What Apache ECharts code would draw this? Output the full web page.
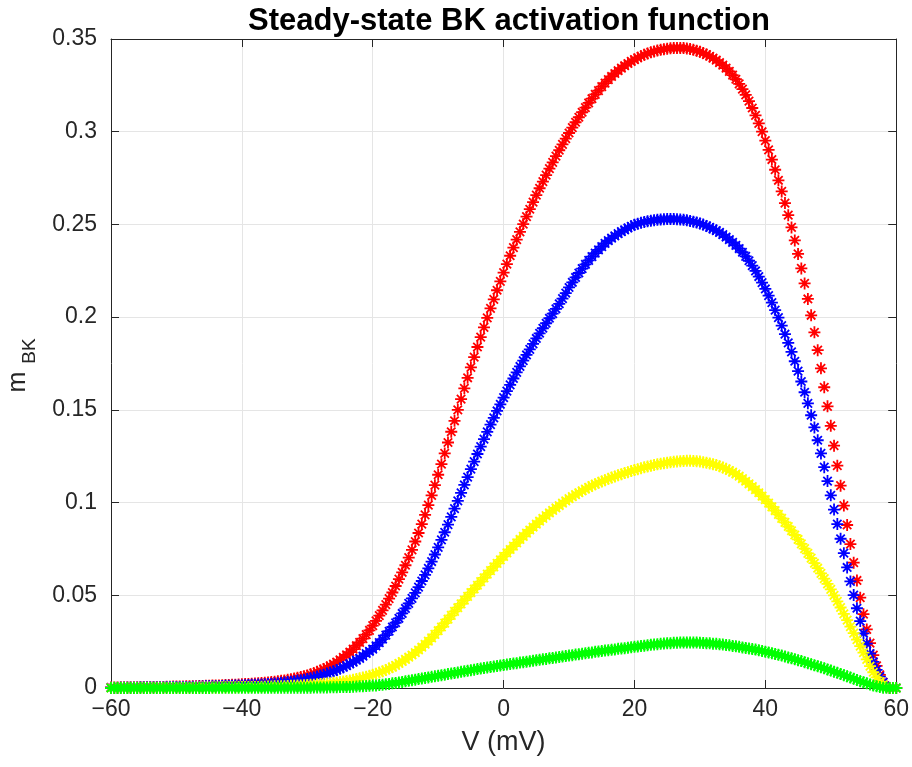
<!DOCTYPE html>
<html>
<head>
<meta charset="utf-8">
<script src="https://cdn.jsdelivr.net/npm/echarts@6/dist/echarts.min.js"></script>
<style>
html,body{margin:0;padding:0;background:#fff;}
#chart{width:912px;height:767px;}
</style>
</head>
<body>
<div id="chart"></div>
<script>
// Membrane potential samples (mV)
const V = [
-60,-59.5,-59,-58.5,-58,-57.5,-57,-56.5,-56,-55.5,
-55,-54.5,-54,-53.5,-53,-52.5,-52,-51.5,-51,-50.5,
-50,-49.5,-49,-48.5,-48,-47.5,-47,-46.5,-46,-45.5,
-45,-44.5,-44,-43.5,-43,-42.5,-42,-41.5,-41,-40.5,
-40,-39.5,-39,-38.5,-38,-37.5,-37,-36.5,-36,-35.5,
-35,-34.5,-34,-33.5,-33,-32.5,-32,-31.5,-31,-30.5,
-30,-29.5,-29,-28.5,-28,-27.5,-27,-26.5,-26,-25.5,
-25,-24.5,-24,-23.5,-23,-22.5,-22,-21.5,-21,-20.5,
-20,-19.5,-19,-18.5,-18,-17.5,-17,-16.5,-16,-15.5,
-15,-14.5,-14,-13.5,-13,-12.5,-12,-11.5,-11,-10.5,
-10,-9.5,-9,-8.5,-8,-7.5,-7,-6.5,-6,-5.5,
-5,-4.5,-4,-3.5,-3,-2.5,-2,-1.5,-1,-0.5,
0,0.5,1,1.5,2,2.5,3,3.5,4,4.5,
5,5.5,6,6.5,7,7.5,8,8.5,9,9.5,
10,10.5,11,11.5,12,12.5,13,13.5,14,14.5,
15,15.5,16,16.5,17,17.5,18,18.5,19,19.5,
20,20.5,21,21.5,22,22.5,23,23.5,24,24.5,
25,25.5,26,26.5,27,27.5,28,28.5,29,29.5,
30,30.5,31,31.5,32,32.5,33,33.5,34,34.5,
35,35.5,36,36.5,37,37.5,38,38.5,39,39.5,
40,40.5,41,41.5,42,42.5,43,43.5,44,44.5,
45,45.5,46,46.5,47,47.5,48,48.5,49,49.5,
50,50.5,51,51.5,52,52.5,53,53.5,54,54.5,
55,55.5,56,56.5,57,57.5,58,58.5,59,59.5,
60];

const mRed = [
0.0003,0.0003,0.0003,0.0004,0.0004,0.0004,0.0004,0.0004,0.0004,0.0005,
0.0005,0.0005,0.0005,0.0006,0.0006,0.0006,0.0006,0.0007,0.0007,0.0008,
0.0008,0.0008,0.0008,0.0009,0.0009,0.0010,0.0010,0.0011,0.0011,0.0012,
0.0012,0.0013,0.0013,0.0014,0.0015,0.0016,0.0016,0.0017,0.0018,0.0019,
0.0020,0.0021,0.0022,0.0023,0.0024,0.0026,0.0027,0.0028,0.0030,0.0032,
0.0034,0.0036,0.0039,0.0041,0.0044,0.0047,0.0051,0.0055,0.0059,0.0063,
0.0068,0.0074,0.0080,0.0087,0.0094,0.0102,0.0110,0.0119,0.0129,0.0140,
0.0152,0.0165,0.0179,0.0194,0.0210,0.0228,0.0246,0.0266,0.0288,0.0311,
0.0336,0.0362,0.0390,0.0419,0.0450,0.0482,0.0515,0.0550,0.0587,0.0624,
0.0662,0.0703,0.0745,0.0790,0.0836,0.0884,0.0934,0.0986,0.1039,0.1094,
0.1150,0.1207,0.1265,0.1324,0.1382,0.1441,0.1500,0.1558,0.1616,0.1673,
0.1729,0.1784,0.1839,0.1892,0.1945,0.1996,0.2047,0.2096,0.2145,0.2193,
0.2240,0.2286,0.2331,0.2375,0.2418,0.2460,0.2502,0.2542,0.2582,0.2620,
0.2658,0.2695,0.2731,0.2766,0.2801,0.2835,0.2868,0.2900,0.2932,0.2963,
0.2993,0.3022,0.3051,0.3078,0.3105,0.3130,0.3155,0.3178,0.3201,0.3222,
0.3243,0.3262,0.3281,0.3298,0.3314,0.3329,0.3343,0.3356,0.3368,0.3379,
0.3389,0.3399,0.3407,0.3415,0.3422,0.3428,0.3433,0.3438,0.3442,0.3445,
0.3448,0.3450,0.3451,0.3452,0.3452,0.3451,0.3449,0.3446,0.3442,0.3437,
0.3431,0.3424,0.3416,0.3407,0.3397,0.3386,0.3373,0.3359,0.3343,0.3325,
0.3305,0.3283,0.3258,0.3230,0.3199,0.3165,0.3128,0.3088,0.3045,0.3000,
0.2952,0.2902,0.2850,0.2795,0.2738,0.2678,0.2615,0.2550,0.2484,0.2414,
0.2341,0.2263,0.2182,0.2098,0.2010,0.1918,0.1822,0.1724,0.1622,0.1519,
0.1414,0.1307,0.1199,0.1091,0.0984,0.0879,0.0776,0.0676,0.0580,0.0487,
0.0398,0.0316,0.0242,0.0177,0.0119,0.0071,0.0032,0.0008,0,0,
0];

const mBlue = [
0.0002,0.0002,0.0002,0.0003,0.0003,0.0003,0.0003,0.0003,0.0003,0.0004,
0.0004,0.0004,0.0004,0.0004,0.0004,0.0004,0.0004,0.0005,0.0005,0.0006,
0.0006,0.0006,0.0006,0.0006,0.0006,0.0007,0.0007,0.0008,0.0008,0.0009,
0.0009,0.0009,0.0009,0.0010,0.0011,0.0012,0.0012,0.0012,0.0013,0.0014,
0.0014,0.0015,0.0016,0.0017,0.0017,0.0019,0.0019,0.0020,0.0022,0.0023,
0.0024,0.0026,0.0028,0.0030,0.0032,0.0034,0.0037,0.0040,0.0042,0.0045,
0.0049,0.0053,0.0057,0.0062,0.0067,0.0072,0.0078,0.0084,0.0090,0.0097,
0.0105,0.0112,0.0121,0.0130,0.0139,0.0150,0.0160,0.0172,0.0186,0.0198,
0.0210,0.0227,0.0245,0.0264,0.0285,0.0306,0.0329,0.0352,0.0376,0.0402,
0.0429,0.0456,0.0483,0.0513,0.0544,0.0577,0.0610,0.0645,0.0682,0.0720,
0.0758,0.0799,0.0840,0.0881,0.0923,0.0967,0.1009,0.1052,0.1095,0.1137,
0.1180,0.1221,0.1262,0.1302,0.1342,0.1381,0.1420,0.1457,0.1494,0.1530,
0.1566,0.1601,0.1635,0.1669,0.1702,0.1734,0.1765,0.1796,0.1826,0.1856,
0.1885,0.1913,0.1940,0.1967,0.1994,0.2019,0.2045,0.2072,0.2100,0.2130,
0.2160,0.2188,0.2214,0.2238,0.2262,0.2285,0.2306,0.2326,0.2345,0.2363,
0.2380,0.2398,0.2413,0.2426,0.2438,0.2450,0.2461,0.2471,0.2481,0.2490,
0.2498,0.2504,0.2509,0.2513,0.2517,0.2520,0.2523,0.2525,0.2527,0.2528,
0.2529,0.2529,0.2529,0.2528,0.2527,0.2525,0.2523,0.2519,0.2515,0.2511,
0.2505,0.2499,0.2492,0.2484,0.2476,0.2467,0.2457,0.2445,0.2432,0.2418,
0.2403,0.2387,0.2370,0.2350,0.2328,0.2304,0.2278,0.2249,0.2219,0.2186,
0.2152,0.2116,0.2078,0.2038,0.1997,0.1954,0.1908,0.1861,0.1813,0.1762,
0.1709,0.1653,0.1595,0.1535,0.1471,0.1405,0.1336,0.1265,0.1191,0.1116,
0.1039,0.0962,0.0884,0.0805,0.0727,0.0650,0.0575,0.0501,0.0430,0.0361,
0.0295,0.0239,0.0186,0.0141,0.0098,0.0061,0.0030,0.0008,0,0,
0];

const mYellow = [
0.0001,0.0001,0.0001,0.0001,0.0001,0.0001,0.0001,0.0001,0.0001,0.0001,
0.0001,0.0001,0.0001,0.0001,0.0002,0.0002,0.0002,0.0002,0.0002,0.0002,
0.0002,0.0002,0.0002,0.0002,0.0002,0.0002,0.0003,0.0003,0.0003,0.0003,
0.0003,0.0003,0.0003,0.0003,0.0004,0.0004,0.0004,0.0004,0.0004,0.0005,
0.0005,0.0005,0.0005,0.0006,0.0006,0.0006,0.0007,0.0007,0.0008,0.0008,
0.0009,0.0009,0.0010,0.0010,0.0011,0.0012,0.0012,0.0013,0.0014,0.0015,
0.0016,0.0017,0.0018,0.0020,0.0021,0.0023,0.0024,0.0026,0.0028,0.0030,
0.0033,0.0035,0.0038,0.0041,0.0044,0.0048,0.0052,0.0056,0.0061,0.0066,
0.0071,0.0077,0.0083,0.0090,0.0097,0.0105,0.0113,0.0122,0.0133,0.0143,
0.0154,0.0166,0.0178,0.0191,0.0205,0.0220,0.0236,0.0253,0.0270,0.0289,
0.0309,0.0329,0.0350,0.0371,0.0392,0.0413,0.0433,0.0454,0.0474,0.0494,
0.0514,0.0534,0.0554,0.0574,0.0594,0.0614,0.0633,0.0653,0.0672,0.0691,
0.0710,0.0729,0.0747,0.0765,0.0783,0.0801,0.0818,0.0835,0.0852,0.0868,
0.0884,0.0900,0.0915,0.0930,0.0944,0.0958,0.0971,0.0984,0.0997,0.1009,
0.1021,0.1032,0.1043,0.1053,0.1063,0.1073,0.1082,0.1091,0.1099,0.1107,
0.1114,0.1121,0.1128,0.1135,0.1141,0.1147,0.1153,0.1159,0.1164,0.1170,
0.1175,0.1180,0.1185,0.1190,0.1194,0.1198,0.1202,0.1206,0.1209,0.1212,
0.1215,0.1218,0.1220,0.1222,0.1223,0.1224,0.1225,0.1225,0.1224,0.1223,
0.1221,0.1218,0.1215,0.1211,0.1207,0.1202,0.1196,0.1189,0.1182,0.1173,
0.1164,0.1154,0.1143,0.1129,0.1115,0.1101,0.1086,0.1070,0.1053,0.1035,
0.1016,0.0997,0.0977,0.0957,0.0936,0.0915,0.0893,0.0871,0.0848,0.0825,
0.0801,0.0777,0.0752,0.0726,0.0700,0.0673,0.0646,0.0618,0.0590,0.0561,
0.0532,0.0500,0.0467,0.0434,0.0400,0.0366,0.0331,0.0296,0.0261,0.0226,
0.0191,0.0154,0.0118,0.0085,0.0057,0.0034,0.0017,0.0005,0,0,
0];

const mGreen = [
0,0,0,0,0,0,0,0,0,0,
0,0,0,0,0,0,0,0,0,0,
0,0,0,0,0,0,0,0,0,0,
0,0.0001,0.0001,0.0001,0.0001,0.0001,0.0001,0.0001,0.0001,0.0001,
0.0001,0.0001,0.0001,0.0001,0.0001,0.0001,0.0001,0.0001,0.0001,0.0001,
0.0001,0.0001,0.0002,0.0002,0.0002,0.0002,0.0002,0.0002,0.0002,0.0002,
0.0002,0.0002,0.0003,0.0003,0.0003,0.0003,0.0003,0.0004,0.0004,0.0004,
0.0005,0.0005,0.0006,0.0006,0.0007,0.0008,0.0009,0.0010,0.0011,0.0012,
0.0013,0.0014,0.0016,0.0018,0.0020,0.0022,0.0025,0.0027,0.0030,0.0033,
0.0036,0.0039,0.0042,0.0045,0.0048,0.0051,0.0054,0.0057,0.0060,0.0063,
0.0066,0.0069,0.0072,0.0075,0.0078,0.0081,0.0084,0.0087,0.0090,0.0093,
0.0096,0.0099,0.0102,0.0105,0.0108,0.0110,0.0113,0.0116,0.0119,0.0121,
0.0124,0.0127,0.0129,0.0132,0.0134,0.0137,0.0139,0.0142,0.0144,0.0147,
0.0150,0.0152,0.0155,0.0157,0.0160,0.0162,0.0165,0.0167,0.0170,0.0172,
0.0175,0.0177,0.0180,0.0182,0.0185,0.0187,0.0190,0.0192,0.0195,0.0197,
0.0199,0.0202,0.0204,0.0206,0.0208,0.0211,0.0213,0.0215,0.0217,0.0220,
0.0222,0.0224,0.0226,0.0228,0.0231,0.0233,0.0235,0.0236,0.0238,0.0240,
0.0241,0.0242,0.0244,0.0244,0.0245,0.0245,0.0245,0.0245,0.0245,0.0245,
0.0244,0.0243,0.0242,0.0241,0.0239,0.0238,0.0236,0.0234,0.0232,0.0230,
0.0227,0.0225,0.0222,0.0219,0.0216,0.0213,0.0210,0.0207,0.0203,0.0200,
0.0196,0.0192,0.0188,0.0184,0.0179,0.0175,0.0170,0.0165,0.0160,0.0155,
0.0150,0.0145,0.0139,0.0134,0.0128,0.0123,0.0117,0.0112,0.0106,0.0100,
0.0094,0.0088,0.0082,0.0076,0.0069,0.0063,0.0056,0.0050,0.0043,0.0037,
0.0031,0.0025,0.0019,0.0014,0.0009,0.0005,0.0002,0.0001,0,0,
0];

const xTicks = [-60, -40, -20, 0, 20, 40, 60];
const yTicks = [0, 0.05, 0.1, 0.15, 0.2, 0.25, 0.3, 0.35];

const seriesDefs = [
  { name: 'red', values: mRed, color: '#ff0000' },
  { name: 'blue', values: mBlue, color: '#0000ff' },
  { name: 'yellow', values: mYellow, color: '#ffff00' },
  { name: 'green', values: mGreen, color: '#00ff00' }
];

// asterisk marker (+ and x overlaid)
const ASTERISK = 'path://M-5,-0.75L5,-0.75L5,0.75L-5,0.75Z' +
  'M-0.75,-5L0.75,-5L0.75,5L-0.75,5Z' +
  'M-2.98,-4.04L4.04,2.98L2.98,4.04L-4.04,-2.98Z' +
  'M-4.04,2.98L2.98,-4.04L4.04,-2.98L-2.98,4.04Z';

const FONT = '"Liberation Sans", Arial, Helvetica, sans-serif';
const INK = '#262626';

const chart = echarts.init(document.getElementById('chart'), null, { renderer: 'canvas' });

const series = seriesDefs.map(s => ({
  name: s.name,
  type: 'scatter',
  data: V.map((v, i) => [v, s.values[i]]),
  symbol: ASTERISK,
  symbolSize: 12,
  symbolKeepAspect: true,
  clip: false,
  itemStyle: { color: s.color, opacity: 1 },
  emphasis: { disabled: true },
  silent: true
}));

const fmtX = v => (v < 0 ? '\u2212' + Math.abs(v) : String(v));

chart.setOption({
  animation: false,
  backgroundColor: '#ffffff',
  title: {
    text: 'Steady-state BK activation function',
    left: 504, textAlign: 'center', top: 1,
    textStyle: { fontFamily: FONT, fontSize: 31, fontWeight: 'bold', color: '#000' }
  },
  grid: { left: 111, top: 39, width: 786, height: 649, containLabel: false, show: false },
  xAxis: [{
    type: 'value', min: -60, max: 60, interval: 20, position: 'bottom',
    name: 'V (mV)', nameLocation: 'middle', nameGap: 41,
    nameTextStyle: { fontFamily: FONT, fontSize: 27, color: INK },
    axisLine: { show: true, onZero: false, lineStyle: { color: INK, width: 1 } },
    axisTick: { show: true, inside: true, length: 8, lineStyle: { color: INK } },
    axisLabel: { fontFamily: FONT, fontSize: 23, color: INK, margin: 10, formatter: fmtX },
    splitLine: { show: true, lineStyle: { color: '#e5e5e5', width: 1 } }
  }, {
    type: 'value', min: -60, max: 60, interval: 20, position: 'top',
    axisLine: { show: true, onZero: false, lineStyle: { color: INK, width: 1 } },
    axisTick: { show: true, inside: true, length: 8, lineStyle: { color: INK } },
    axisLabel: { show: false }, splitLine: { show: false }
  }],
  yAxis: [{
    type: 'value', min: 0, max: 0.35, interval: 0.05, position: 'left',
    axisLine: { show: true, onZero: false, lineStyle: { color: INK, width: 1 } },
    axisTick: { show: true, inside: true, length: 8, lineStyle: { color: INK } },
    axisLabel: { fontFamily: FONT, fontSize: 23, color: INK, margin: 14 },
    splitLine: { show: true, lineStyle: { color: '#e5e5e5', width: 1 } }
  }, {
    type: 'value', min: 0, max: 0.35, interval: 0.05, position: 'right',
    axisLine: { show: true, onZero: false, lineStyle: { color: INK, width: 1 } },
    axisTick: { show: true, inside: true, length: 8, lineStyle: { color: INK } },
    axisLabel: { show: false }, splitLine: { show: false }
  }],
  graphic: [
    { type: 'text', x: 18, y: 382, rotation: Math.PI / 2,
      style: { text: 'm', font: '25px ' + FONT, fill: INK, align: 'center', verticalAlign: 'middle' } },
    { type: 'text', x: 30, y: 351, rotation: Math.PI / 2,
      style: { text: 'BK', font: '19px ' + FONT, fill: INK, align: 'center', verticalAlign: 'middle' } }
  ],
  series: series
});
</script>
</body>
</html>
